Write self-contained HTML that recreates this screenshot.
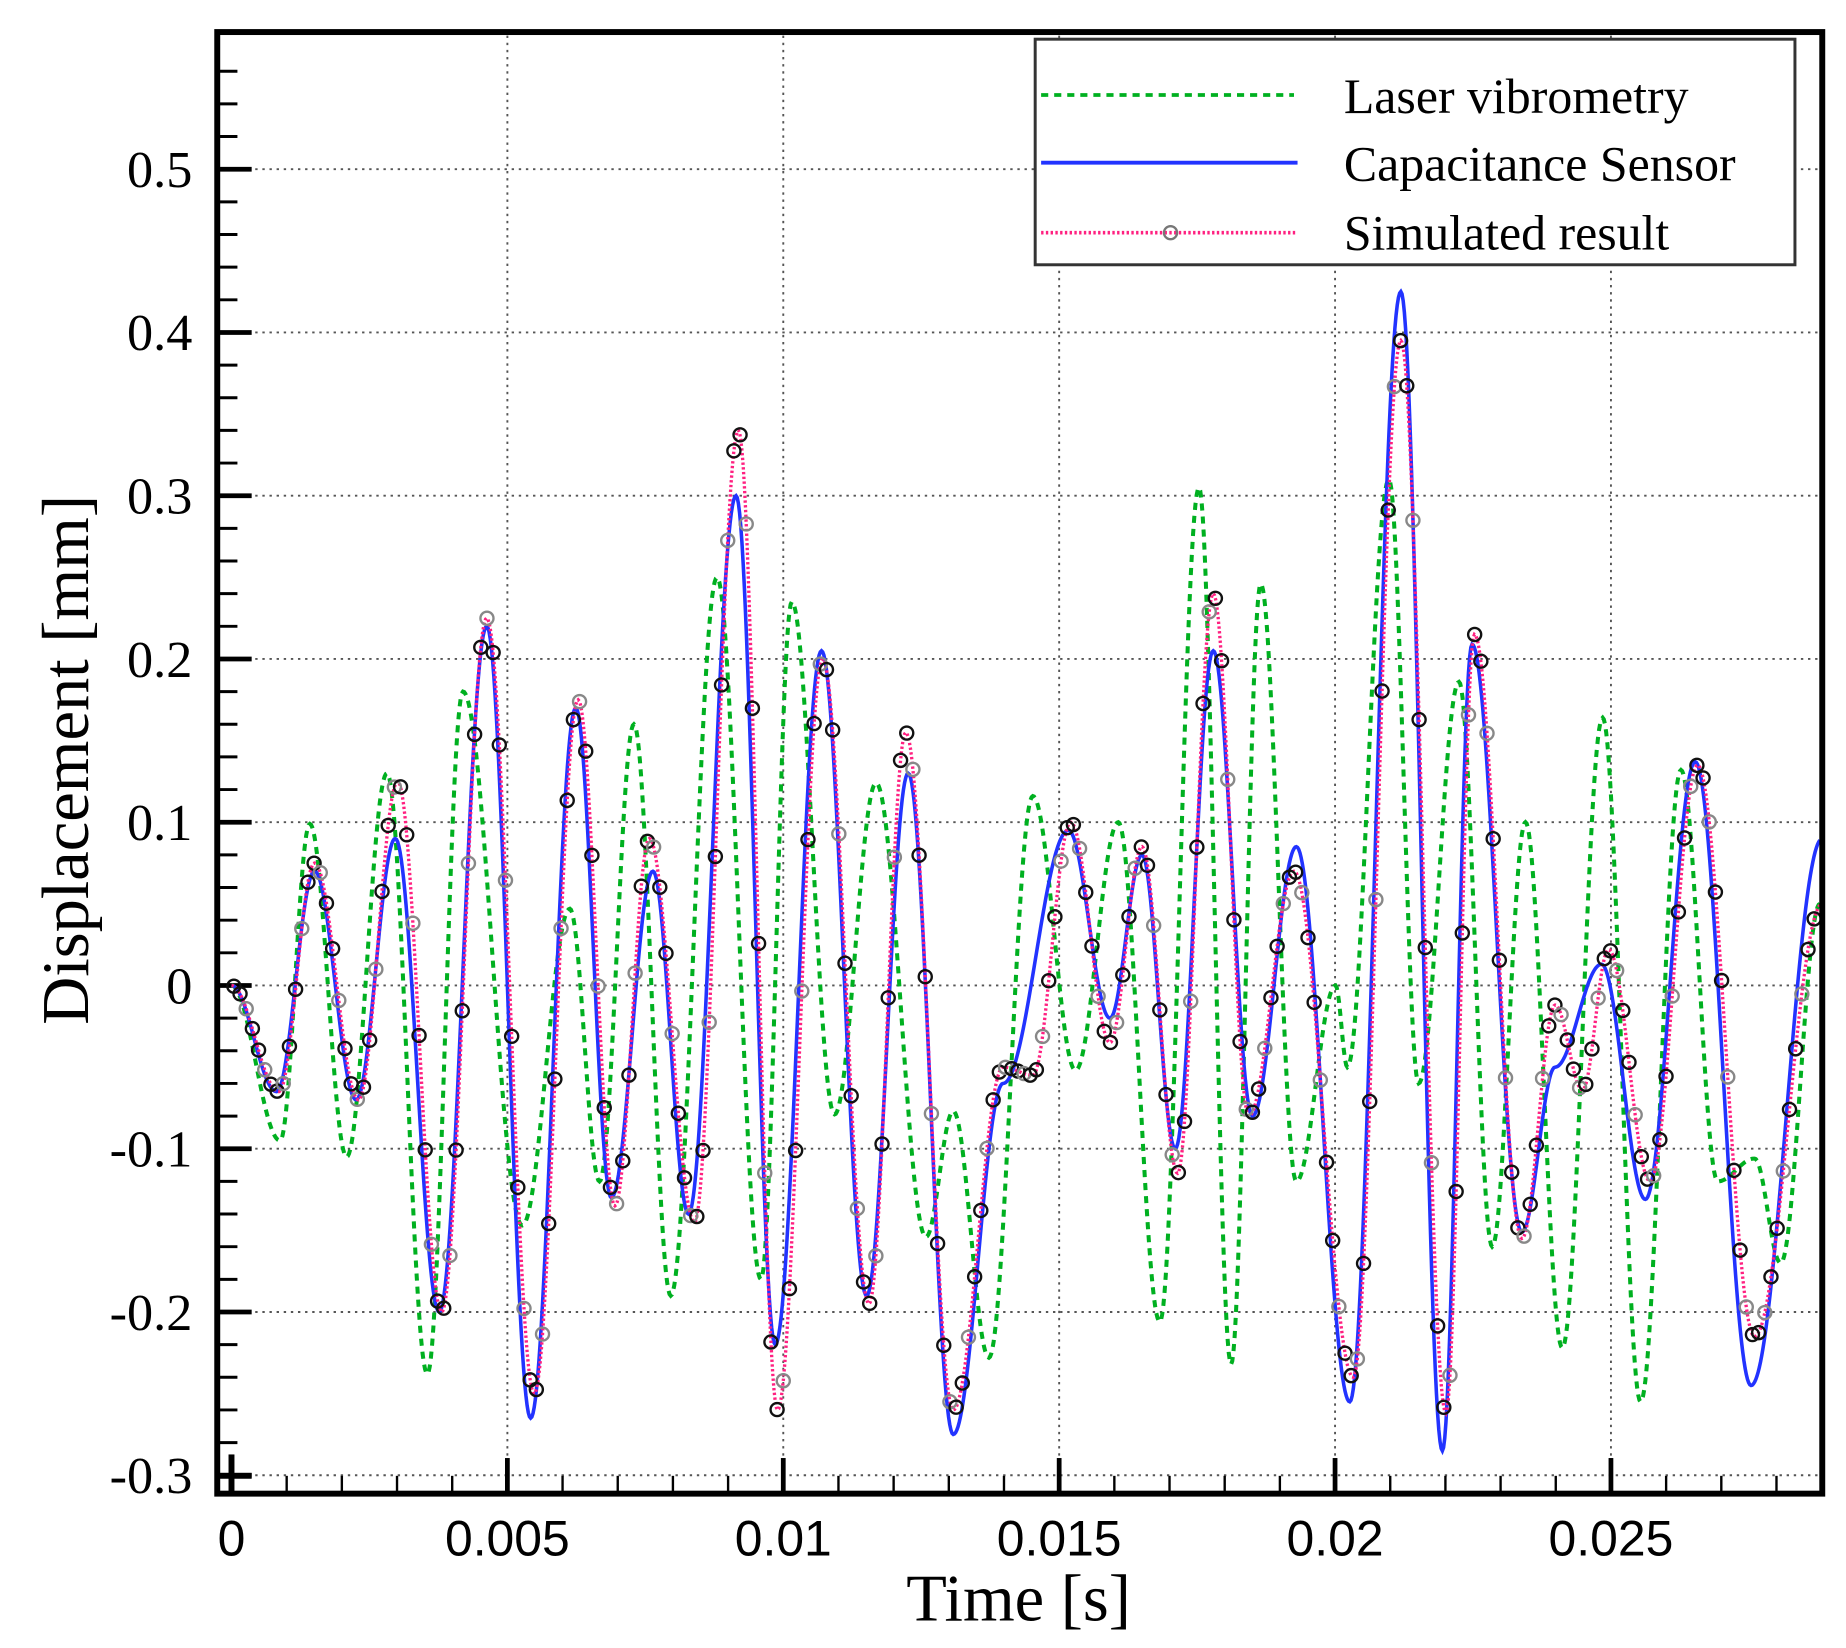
<!DOCTYPE html>
<html><head><meta charset="utf-8"><style>
html,body{margin:0;padding:0;background:#fff}
svg{display:block}
</style></head><body>
<svg id="c" xmlns="http://www.w3.org/2000/svg" width="1846" height="1648" viewBox="0 0 1555 1388" preserveAspectRatio="none">
<rect x="0" y="0" width="1555" height="1388" fill="#fff"/>
<g id="grid" stroke="#555" stroke-width="1.6" stroke-dasharray="2,4"></g>
<g id="ticks" stroke="#000"></g>
<g id="series"></g>
<rect x="183" y="27" width="1352" height="1231" fill="none" stroke="#000" stroke-width="5"/>
<g font-family="Liberation Serif, serif" font-size="44" fill="#000" text-anchor="end" id="ylab"></g>
<g font-family="Liberation Sans, sans-serif" font-size="42" fill="#000" text-anchor="middle" id="xlab"></g>
<text x="858" y="1365" font-family="Liberation Serif, serif" font-size="56" text-anchor="middle">Time [s]</text>
<text transform="translate(74,640) rotate(-90)" font-family="Liberation Serif, serif" font-size="56" text-anchor="middle">Displacement [mm]</text>
<g>
<rect x="872" y="33" width="640" height="190" fill="#fff" stroke="#333" stroke-width="2.5"/>
<line x1="877" y1="80" x2="1090" y2="80" stroke="#00b020" stroke-width="3.2" stroke-dasharray="6,5"/>
<line x1="877" y1="137" x2="1093" y2="137" stroke="#2233ff" stroke-width="3.2"/>
<line x1="877" y1="196" x2="1093" y2="196" stroke="#ff2080" stroke-width="3" stroke-dasharray="2,2"/>
<circle cx="986" cy="196" r="5.5" fill="none" stroke="#777" stroke-width="2"/>
<g font-family="Liberation Serif, serif" font-size="42" fill="#000">
<text x="1132" y="95">Laser vibrometry</text>
<text x="1132" y="152">Capacitance Sensor</text>
<text x="1132" y="210">Simulated result</text>
</g>
</g>
</svg>
<script>
var NS="http://www.w3.org/2000/svg";
function el(p,t,a){var e=document.createElementNS(NS,t);for(var k in a)e.setAttribute(k,a[k]);p.appendChild(e);return e;}
var X0=195,XS=232.4/0.005,Y0=830,YS=1375;
function Y(v){return Y0-v*YS;}
var grid=document.getElementById('grid'),ticks=document.getElementById('ticks');
var ylab=document.getElementById('ylab'),xlab=document.getElementById('xlab');
var yl=[0.5,0.4,0.3,0.2,0.1,0,-0.1,-0.2,-0.3];
yl.forEach(function(v){var y=Y(v);
 el(grid,'line',{x1:197,y1:y,x2:1533,y2:y});
 el(ticks,'line',{x1:185,y1:y,x2:212,y2:y,'stroke-width':4});
 var t=el(ylab,'text',{x:162,y:y+15});t.textContent=(v==0?'0':String(v));});
for(var v=-0.3;v<=0.58;v+=0.02){var y=Y(v);if(y<30||y>1255)continue;
 el(ticks,'line',{x1:185,y1:y,x2:200,y2:y,'stroke-width':2.5});}
var xl=[[0,'0'],[0.005,'0.005'],[0.01,'0.01'],[0.015,'0.015'],[0.02,'0.02'],[0.025,'0.025']];
xl.forEach(function(p){var x=X0+p[0]*XS;
 if(p[0]>0)el(grid,'line',{x1:x,y1:30,x2:x,y2:1245});
 el(ticks,'line',{x1:x,y1:1256,x2:x,y2:(p[0]>0?1228:1225),'stroke-width':4});
 var t=el(xlab,'text',{x:x,y:1310});t.textContent=p[1];});
for(var i=1;i<=28;i++){var x=X0+i*0.001*XS;el(ticks,'line',{x1:x,y1:1256,x2:x,y2:1243,'stroke-width':2});}
el(ticks,'line',{x1:195,y1:1256,x2:195,y2:1225,'stroke-width':5});
el(ticks,'line',{x1:185,y1:1243,x2:212,y2:1243,'stroke-width':5});

function interp(pts,x){
 for(var i=0;i<pts.length-1;i++){var a=pts[i],b=pts[i+1];
  if(x>=a[0]&&x<=b[0]){var s=(x-a[0])/(b[0]-a[0]);return a[1]+(b[1]-a[1])*(1-Math.cos(Math.PI*s))/2;}}
 return pts[pts.length-1][1];}
function path(pts){var d='';for(var x=195;x<=1533;x+=1){d+=(x==195?'M':'L')+x+','+Y(interp(pts,x)).toFixed(1);}return d;}
var blue=[[195,0],[233,-0.065],[265,0.07],[300,-0.07],[333,0.09],[370,-0.2],[410,0.22],[447,-0.265],[485,0.17],[515,-0.13],[550,0.07],[580,-0.14],[620,0.30],[653,-0.22],[692,0.205],[730,-0.19],[765,0.13],[803,-0.275],[845,-0.06],[900,0.095],[935,-0.02],[962,0.08],[990,-0.1],[1022,0.205],[1055,-0.08],[1092,0.085],[1137,-0.255],[1180,0.425],[1215,-0.285],[1240,0.209],[1282,-0.151],[1310,-0.05],[1349,0.013],[1386,-0.131],[1428,0.137],[1475,-0.245],[1535,0.09]];
var sim=[[195,0],[235,-0.065],[265,0.075],[302,-0.07],[335,0.125],[372,-0.2],[410,0.225],[450,-0.25],[487,0.175],[518,-0.135],[547,0.09],[585,-0.145],[622,0.34],[655,-0.26],[693,0.2],[732,-0.195],[763,0.155],[803,-0.26],[845,-0.05],[870,-0.055],[902,0.1],[935,-0.035],[962,0.085],[992,-0.115],[1022,0.24],[1052,-0.08],[1090,0.07],[1140,-0.24],[1180,0.395],[1218,-0.262],[1242,0.215],[1282,-0.155],[1310,-0.012],[1333,-0.064],[1355,0.022],[1390,-0.12],[1430,0.135],[1478,-0.215],[1535,0.05]];
var green=[[195,0],[236,-0.095],[261,0.099],[292,-0.105],[326,0.13],[360,-0.238],[390,0.18],[440,-0.147],[480,0.047],[505,-0.12],[534,0.16],[565,-0.19],[604,0.25],[641,-0.18],[667,0.235],[703,-0.079],[738,0.124],[780,-0.154],[803,-0.077],[833,-0.228],[870,0.116],[906,-0.052],[942,0.1],[977,-0.206],[1010,0.305],[1037,-0.232],[1062,0.246],[1092,-0.12],[1125,0.0],[1135,-0.05],[1170,0.31],[1195,-0.06],[1229,0.186],[1257,-0.16],[1285,0.1],[1316,-0.222],[1350,0.164],[1382,-0.255],[1416,0.132],[1447,-0.12],[1478,-0.106],[1500,-0.17],[1533,0.05]];
var g=document.getElementById('series');
el(g,'path',{d:path(green),fill:'none',stroke:'#00b020','stroke-width':3.4,'stroke-dasharray':'6,5'});
el(g,'path',{d:path(blue),fill:'none',stroke:'#2233ff','stroke-width':3});
el(g,'path',{d:path(sim),fill:'none',stroke:'#ff2080','stroke-width':2.8,'stroke-dasharray':'2,2'});
var k=0;for(var x=197;x<=1533;x+=5.2){k++;
 el(g,'circle',{cx:x.toFixed(1),cy:Y(interp(sim,x)).toFixed(1),r:5.5,fill:'none',stroke:(k%3==0?'#888':'#111'),'stroke-width':2});}
</script>
</body></html>
